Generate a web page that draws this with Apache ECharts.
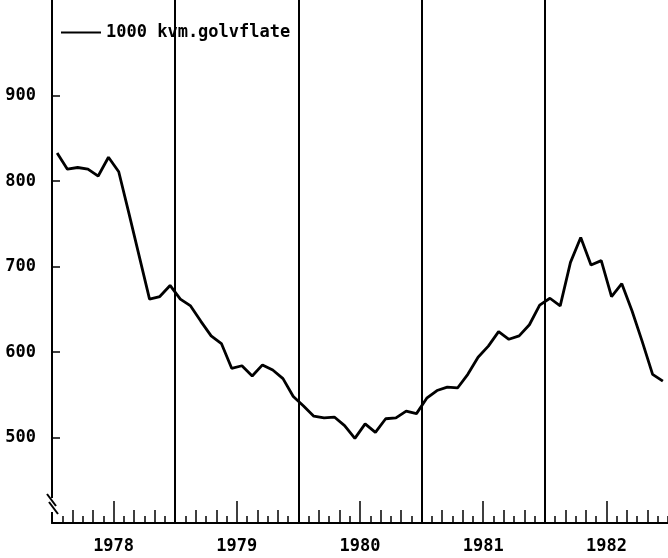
<!DOCTYPE html>
<html>
<head>
<meta charset="utf-8">
<script src="https://cdn.jsdelivr.net/npm/echarts@6/dist/echarts.min.js"></script>
<style>
html,body{margin:0;padding:0;background:#fff;}
#chart{width:668px;height:558px;}
</style>
</head>
<body>
<div id="chart"></div>
<script>
const years = ['1978', '1979', '1980', '1981', '1982'];
const monthNames = ['01','02','03','04','05','06','07','08','09','10','11','12'];
const months = [];
years.forEach(y => monthNames.forEach(m => months.push(y + '-' + m)));

const floorArea1978 = [833, 814, 816, 814, 806, 828, 811, 762, 712, 662, 665, 678];
const floorArea1979 = [662, 654, 636, 619, 610, 581, 584, 572, 585, 579, 569, 548];
const floorArea1980 = [537, 525, 523, 524, 514, 499, 516, 506, 522, 523, 531, 528];
const floorArea1981 = [546, 555, 559, 558, 574, 594, 607, 624, 615, 619, 632, 655];
const floorArea1982 = [663, 654, 705, 734, 702, 707, 665, 680, 648, 612, 574, 566];
const floorArea = [].concat(floorArea1978, floorArea1979, floorArea1980, floorArea1981, floorArea1982);

const yTickValues = [500, 600, 700, 800, 900];
// tick positions in months from Jan 1978
const yearBoundaries = [12, 24, 36, 48];
const midYearTicks = [6, 18, 30, 42, 54];
const evenMonthTicks = [];
for (let i = 2; i < months.length; i += 2) {
  if (i % 12 !== 0 && i % 12 !== 6) evenMonthTicks.push(i);
}
const seriesName = '1000 kvm.golvflate';

const FONT = 'DejaVu Sans Mono';
const BLACK = '#000';
const GRID_BOTTOM = 35;
const GRID_HEIGHT = 558 - GRID_BOTTOM;

const chart = echarts.init(document.getElementById('chart'), null, {renderer: 'canvas'});

const valueTickAxis = (len, values, width) => ({
  type: 'value',
  min: 0, max: months.length,
  position: 'bottom',
  axisLine: {show: false},
  axisTick: {show: true, inside: true, length: len, customValues: values, lineStyle: {color: BLACK, width: width}},
  axisLabel: {show: false},
  splitLine: {show: false}
});

const option = {
  animation: false,
  backgroundColor: '#fff',
  grid: {left: 52, top: 0, width: 618, bottom: GRID_BOTTOM, containLabel: false},
  legend: {
    left: 61, top: 24, padding: 0,
    itemWidth: 40, itemHeight: 18,
    data: [{name: seriesName, icon: 'path://M0,9 L40,9 L40,11 L0,11 Z'}],
    textStyle: {fontFamily: FONT, fontSize: 17, fontWeight: 'bold', color: BLACK}
  },
  xAxis: [
    {
      type: 'category',
      data: months,
      position: 'bottom',
      boundaryGap: true,
      axisLine: {show: true, lineStyle: {color: BLACK, width: 2}},
      axisTick: {show: true, inside: true, length: 7, interval: 0, lineStyle: {color: BLACK, width: 1.5}},
      axisLabel: {show: false},
      splitLine: {show: false}
    },
    valueTickAxis(13, evenMonthTicks, 1.5),
    valueTickAxis(22, midYearTicks, 1.5),
    valueTickAxis(GRID_HEIGHT, yearBoundaries, 2),
    {
      type: 'category',
      data: years,
      position: 'bottom',
      boundaryGap: true,
      axisLine: {show: false},
      axisTick: {show: false},
      axisLabel: {show: true, interval: 0, margin: 15, fontFamily: FONT, fontSize: 17, fontWeight: 'bold', color: BLACK},
      splitLine: {show: false}
    }
  ],
  yAxis: {
    type: 'value',
    min: 400, max: 1012,
    axisLine: {show: true, lineStyle: {color: BLACK, width: 2}},
    axisTick: {show: true, inside: true, length: 8, customValues: yTickValues, lineStyle: {color: BLACK, width: 1.5}},
    axisLabel: {show: true, customValues: yTickValues, margin: 16, fontFamily: FONT, fontSize: 17, fontWeight: 'bold', color: BLACK},
    splitLine: {show: false}
  },
  series: [{
    name: seriesName,
    type: 'line',
    xAxisIndex: 0,
    data: floorArea,
    symbol: 'none',
    showSymbol: false,
    lineStyle: {color: BLACK, width: 2.8},
    itemStyle: {color: BLACK},
    z: 5
  }]
};
chart.setOption(option);

// axis break marks on the y axis near its foot
const p0 = chart.convertToPixel({xAxisIndex: 0}, months[0]);
const p1 = chart.convertToPixel({xAxisIndex: 0}, months[1]);
const ax = p0 - (p1 - p0) / 2;
const yb = chart.convertToPixel({yAxisIndex: 0}, 400);
chart.setOption({
  graphic: [
    {type: 'rect', z: 100, shape: {x: ax - 3, y: yb - 25, width: 6, height: 14}, style: {fill: '#fff'}},
    {type: 'line', z: 101, shape: {x1: ax - 5, y1: yb - 29, x2: ax + 4, y2: yb - 17}, style: {stroke: BLACK, lineWidth: 2}},
    {type: 'line', z: 101, shape: {x1: ax - 3, y1: yb - 21, x2: ax + 6, y2: yb - 9}, style: {stroke: BLACK, lineWidth: 2}}
  ]
});
</script>
</body>
</html>
